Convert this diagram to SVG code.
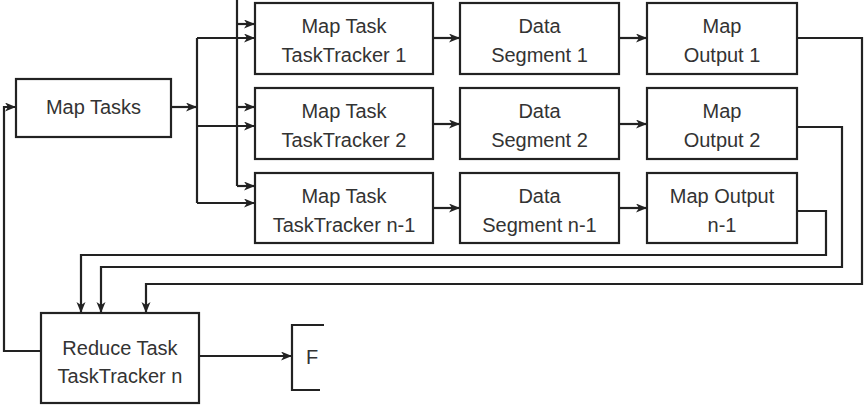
<svg xmlns="http://www.w3.org/2000/svg" width="865" height="407" viewBox="0 0 865 407">
<defs>
<marker id="ah" markerUnits="userSpaceOnUse" markerWidth="12" markerHeight="10" refX="11" refY="4.5" orient="auto">
<path d="M0,0 L11,4.5 L0,9 L3,4.5 z" fill="#222"/>
</marker>
</defs>
<style>
.box{fill:#fff;stroke:#222;stroke-width:2.2}
.t{font-family:"Liberation Sans",Arial,sans-serif;font-size:20px;fill:#333;text-anchor:middle}
.c{fill:none;stroke:#222;stroke-width:2.2}
</style>
<rect width="865" height="407" fill="#fff"/>
<g id="connectors">
<path class="c" d="M171,107 H197" marker-end="url(#ah)"/>
<path class="c" d="M197,107 V203"/>
<path class="c" d="M197,107 V38"/>
<path class="c" d="M197,38 H255" marker-end="url(#ah)"/>
<path class="c" d="M197,126 H255" marker-end="url(#ah)"/>
<path class="c" d="M197,203 H255" marker-end="url(#ah)"/>
<path class="c" d="M237,0 V186"/>
<path class="c" d="M237,24 H255" marker-end="url(#ah)"/>
<path class="c" d="M237,107 H255" marker-end="url(#ah)"/>
<path class="c" d="M237,186 H255" marker-end="url(#ah)"/>
<path class="c" d="M433,38 H460" marker-end="url(#ah)"/>
<path class="c" d="M433,124 H460" marker-end="url(#ah)"/>
<path class="c" d="M433,208 H460" marker-end="url(#ah)"/>
<path class="c" d="M619,38 H647" marker-end="url(#ah)"/>
<path class="c" d="M619,124 H647" marker-end="url(#ah)"/>
<path class="c" d="M619,208 H647" marker-end="url(#ah)"/>
<path class="c" d="M797,38 H862 V284 H146 V313" marker-end="url(#ah)"/>
<path class="c" d="M797,127 H842 V267 H101 V313" marker-end="url(#ah)"/>
<path class="c" d="M797,211 H826 V255 H81 V313" marker-end="url(#ah)"/>
<path class="c" d="M41,351 H4 V107 H16" marker-end="url(#ah)"/>
<path class="c" d="M199,356 H292" marker-end="url(#ah)"/>
</g>
<g id="map-tasks"><rect class="box" x="16" y="79" width="155" height="58"/><text class="t" x="93.5" y="114">Map Tasks</text></g>
<g id="mt1"><rect class="box" x="255" y="3" width="178" height="71"/><text class="t" x="344" y="33">Map Task</text><text class="t" x="344" y="62">TaskTracker 1</text></g>
<g id="mt2"><rect class="box" x="255" y="88" width="178" height="71"/><text class="t" x="344" y="118">Map Task</text><text class="t" x="344" y="147">TaskTracker 2</text></g>
<g id="mt3"><rect class="box" x="255" y="173" width="178" height="70"/><text class="t" x="344" y="203">Map Task</text><text class="t" x="344" y="232">TaskTracker n-1</text></g>
<g id="ds1"><rect class="box" x="460" y="3" width="159" height="71"/><text class="t" x="539.5" y="33">Data</text><text class="t" x="539.5" y="62">Segment 1</text></g>
<g id="ds2"><rect class="box" x="460" y="88" width="159" height="71"/><text class="t" x="539.5" y="118">Data</text><text class="t" x="539.5" y="147">Segment 2</text></g>
<g id="ds3"><rect class="box" x="460" y="173" width="159" height="70"/><text class="t" x="539.5" y="203">Data</text><text class="t" x="539.5" y="232">Segment n-1</text></g>
<g id="mo1"><rect class="box" x="647" y="3" width="150" height="71"/><text class="t" x="722" y="33">Map</text><text class="t" x="722" y="62">Output 1</text></g>
<g id="mo2"><rect class="box" x="647" y="88" width="150" height="71"/><text class="t" x="722" y="118">Map</text><text class="t" x="722" y="147">Output 2</text></g>
<g id="mo3"><rect class="box" x="647" y="173" width="150" height="70"/><text class="t" x="722" y="203">Map Output</text><text class="t" x="722" y="232">n-1</text></g>
<g id="reduce"><rect class="box" x="41" y="313" width="158" height="90"/><text class="t" x="120" y="355">Reduce Task</text><text class="t" x="120" y="383">TaskTracker n</text></g>
<g id="final"><path class="c" d="M324,325 H292 V390 H320"/><text class="t" x="312" y="364">F</text></g>
</svg>
